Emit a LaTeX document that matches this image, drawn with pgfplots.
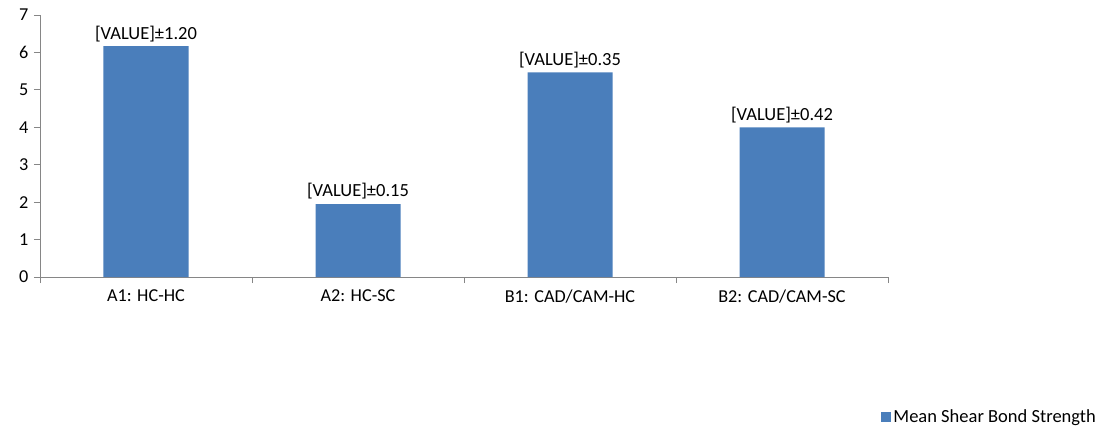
\documentclass[border=0pt]{standalone}
\usepackage{pgfplots}
\pgfplotsset{compat=1.18}
\usepackage{fontspec}
\setmainfont{Carlito}
\definecolor{barblue}{HTML}{4A7EBB}
\definecolor{axgray}{HTML}{868686}
\begin{document}
\begin{tikzpicture}[x=1pt,y=1pt]
\path[use as bounding box] (0,0) rectangle (1104,429);
\begin{axis}[
  at={(40pt,152pt)}, anchor=south west,
  scale only axis, width=848pt, height=262pt,
  xmin=-0.5, xmax=3.5, ymin=0, ymax=7,
  axis x line=bottom, axis y line=left,
  axis line style={-, draw=axgray, line width=0.8pt},
  tick align=outside,
  xtick={0,1,2,3},
  xticklabels={A1: HC-HC, A2: HC-SC, B1: CAD/CAM-HC, B2: CAD/CAM-SC},
  major x tick style={draw=none},
  minor xtick={-0.5,0.5,1.5,2.5,3.5},
  minor tick length=6pt,
  minor x tick style={draw=axgray, line width=0.8pt},
  ytick={0,1,2,3,4,5,6,7},
  major tick length=6pt,
  y tick style={draw=axgray, line width=0.8pt},
  /pgf/number format/assume math mode=true,
  tick label style={font=\fontsize{18.2}{21}\selectfont, text=black},
  xticklabel style={yshift=-3pt},
  yticklabel style={xshift=-2pt},
  nodes near coords,
  point meta=explicit symbolic,
  every node near coord/.append style={font=\fontsize{18.5}{21}\selectfont, text=black, yshift=1pt},
  legend style={at={(1.2476,-0.535)}, anchor=east, draw=none, fill=none,
    font=\fontsize{18.5}{21}\selectfont, inner sep=0pt, legend cell align=left},
  legend image code/.code={\fill[barblue] (0pt,-5pt) rectangle (10pt,5pt);},
]
\addplot[ybar, bar width=85pt, fill=barblue, draw=none] coordinates {
  (0,6.17) [{[VALUE]±1.20}]
  (1,1.95) [{[VALUE]±0.15}]
  (2,5.47) [{[VALUE]±0.35}]
  (3,4.00) [{[VALUE]±0.42}]
};
\addlegendentry{Mean Shear Bond Strength}
\end{axis}
\end{tikzpicture}
\end{document}
